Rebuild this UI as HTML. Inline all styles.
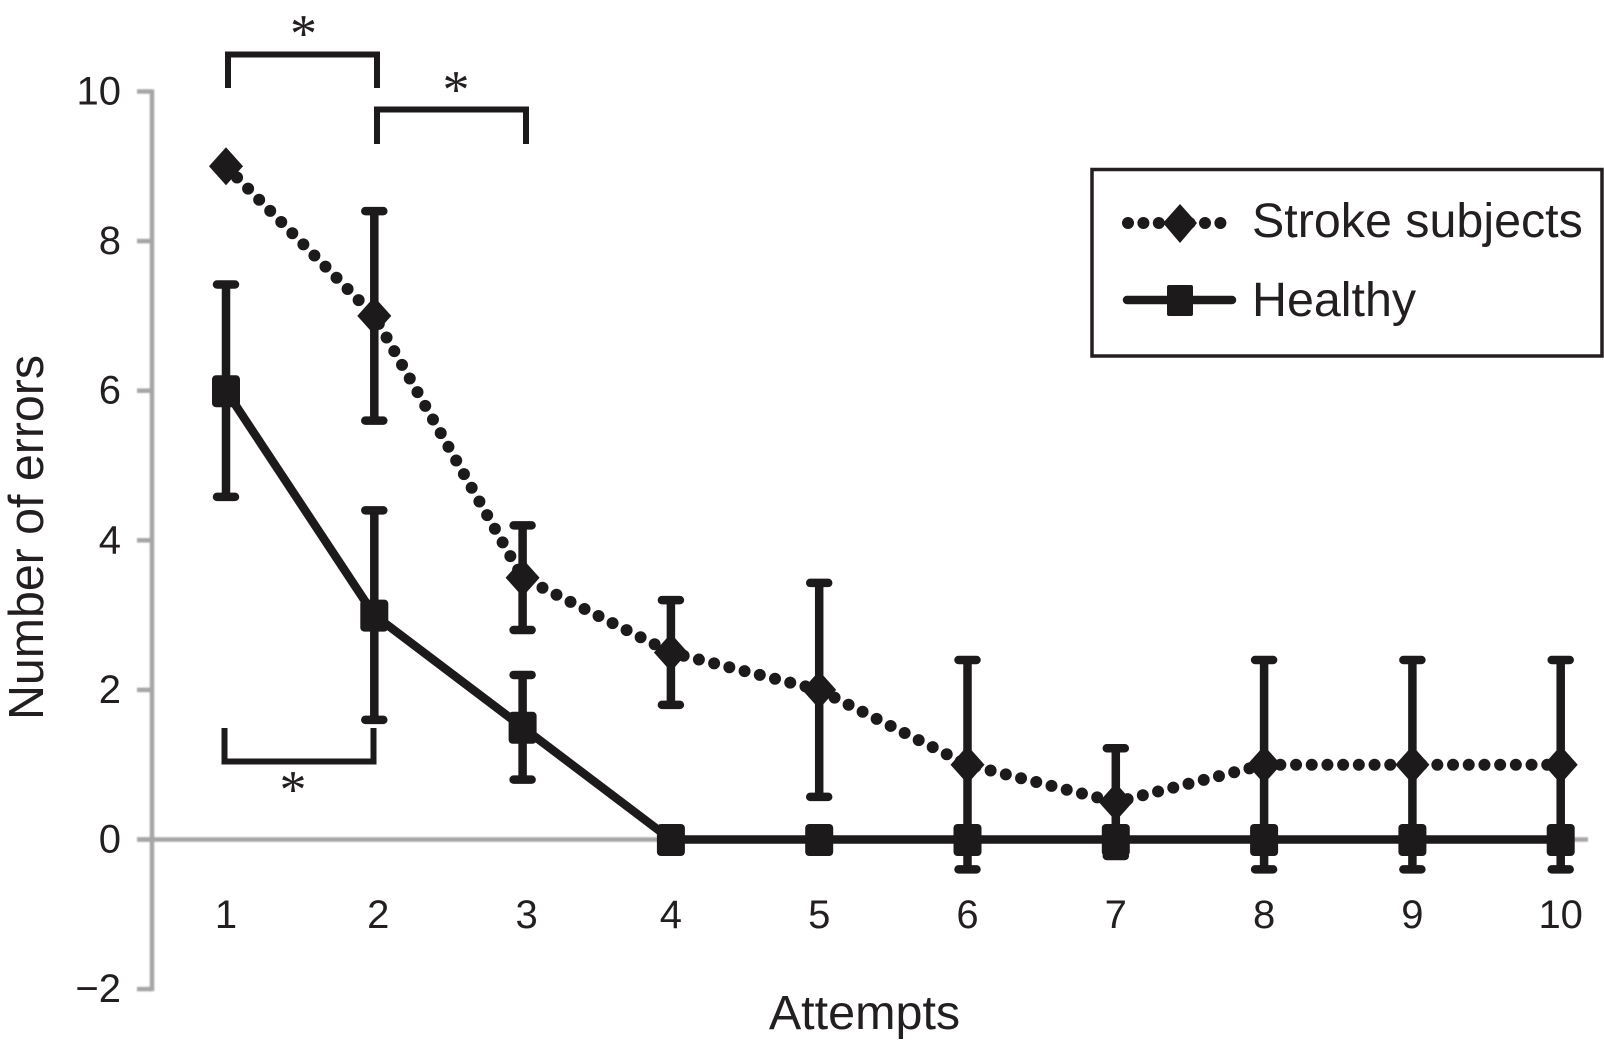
<!DOCTYPE html>
<html lang="en">
<head>
<meta charset="utf-8">
<title>Number of errors by attempt</title>
<style>
  html, body { margin: 0; padding: 0; background: #fff; }
  svg { display: block; }
  text { font-family: "Liberation Sans", Arial, sans-serif; fill: #231f20; }
</style>
</head>
<body>
<svg id="chart" xmlns="http://www.w3.org/2000/svg" width="1604" height="1040" viewBox="0 0 1604 1040">
  <defs>
    <filter id="soft" filterUnits="userSpaceOnUse" x="0" y="0" width="1604" height="1040"><feGaussianBlur stdDeviation="0.8"/></filter>
  </defs>
  <rect x="0" y="0" width="1604" height="1040" fill="#ffffff"/>
  <g id="axis-lines" filter="url(#soft)"></g>
  <g id="axes"></g>
  <g id="marks"></g>

  <g fill="none" stroke="#1c1a1b" stroke-width="6">
    <path d="M228 88 V54.5 H377 V88"/>
    <path d="M377 144 V109.5 H526 V144"/>
    <path d="M224.5 728 V761.5 H373.5 V728"/>
  </g>
  <text x="303.5" y="51.5" font-size="54" text-anchor="middle" style="font-family:'Liberation Serif',serif">*</text>
  <text x="456" y="107.5" font-size="54" text-anchor="middle" style="font-family:'Liberation Serif',serif">*</text>
  <text x="293" y="807.5" font-size="54" text-anchor="middle" style="font-family:'Liberation Serif',serif">*</text>

  <text transform="translate(43 720) rotate(-90)" font-size="49" textLength="365" lengthAdjust="spacingAndGlyphs">Number of errors</text>
  <text x="864.5" y="1029" font-size="48.5" text-anchor="middle">Attempts</text>

  <g>
    <rect x="1092" y="169.5" width="510" height="186.5" fill="#ffffff" stroke="#231f20" stroke-width="3.5"/>
    <g>
      <line x1="1128" y1="223" x2="1225" y2="223" stroke="#1c1a1b" stroke-width="12" stroke-linecap="round" stroke-dasharray="0 15.4"/>
      <polygon points="1180,204 1197,223 1180,243 1163,223" fill="#1c1a1b"/>
      <text x="1252" y="237" font-size="48.4">Stroke subjects</text>
    </g>
    <g>
      <line x1="1127" y1="300" x2="1232" y2="300" stroke="#1c1a1b" stroke-width="8.5" stroke-linecap="round"/>
      <rect x="1167" y="285" width="26" height="31" rx="2" fill="#1c1a1b"/>
      <text x="1252" y="316" font-size="48.4">Healthy</text>
    </g>
  </g>
</svg>
<script>
// Chart data
const attempts = ["1", "2", "3", "4", "5", "6", "7", "8", "9", "10"];
const yTickValues = [10, 8, 6, 4, 2, 0, -2];
const yTickLabels = ["10", "8", "6", "4", "2", "0", "\u22122"];
const strokeValues = [9, 7, 3.5, 2.5, 2, 1, 0.5, 1, 1, 1];
const strokeErrors = [0, 1.4, 0.7, 0.7, 1.43, 1.4, 0.72, 1.4, 1.4, 1.4];
const healthyValues = [6, 3, 1.5, 0, 0, 0, 0, 0, 0, 0];
const healthyErrors = [1.42, 1.4, 0.7, 0, 0, 0, 0, 0, 0, 0];

const NS = "http://www.w3.org/2000/svg";
const INK = "#1c1a1b";
const GREY = "#a6a6a6";
const axisLines = document.getElementById("axis-lines");
const axes = document.getElementById("axes");
const marks = document.getElementById("marks");

function xAt(i) { return 226 + 148.3 * i; }
function yAt(v) { return 839.5 - 74.8 * v; }

function make(parent, tag, attrs) {
  const n = document.createElementNS(NS, tag);
  for (const k in attrs) n.setAttribute(k, attrs[k]);
  parent.appendChild(n);
  return n;
}

// Axes
let el = make(axisLines, "line", { x1: 152, x2: 152, y1: yAt(10) - 2, y2: yAt(-2) + 2, stroke: GREY, "stroke-width": 4.5 });


el = make(axisLines, "line", { x1: 137, x2: 1588, y1: yAt(0), y2: yAt(0), stroke: GREY, "stroke-width": 4.5 });



yTickValues.forEach(function (v, i) {
  const tick = make(axisLines, "line", { x1: 137, x2: 152, y1: yAt(v), y2: yAt(v), stroke: GREY, "stroke-width": 4.5 });
  
  
  const label = make(axes, "text", { x: 121, y: yAt(v) + 13, "font-size": 40, "text-anchor": "end" });
  label.textContent = yTickLabels[i];
  
  
});

attempts.forEach(function (name, i) {
  const nudge = (i === 1 || i === 2) ? 4 : 0;
  const label = make(axes, "text", { x: xAt(i) + nudge, y: 928, "font-size": 40, "text-anchor": "middle" });
  label.textContent = name;
  
  
});

// Series lines
function points(values) {
  return values.map(function (v, i) { return xAt(i) + "," + yAt(v); }).join(" ");
}

const strokeLine = make(marks, "polyline", { points: points(strokeValues), fill: "none", stroke: INK, "stroke-width": 12, "stroke-linecap": "round", "stroke-dasharray": "0 15.7" });



const healthyLine = make(marks, "polyline", { points: points(healthyValues), fill: "none", stroke: INK, "stroke-width": 8.5, "stroke-linejoin": "round" });



// Error bars
function errorBar(i, value, err) {
  if (!err) return null;
  const x = xAt(i);
  const top = yAt(value + err);
  const bottom = yAt(value - err);
  const d = "M" + x + " " + top + " V" + bottom + " M" + (x - 9) + " " + top + " H" + (x + 9) + " M" + (x - 9) + " " + bottom + " H" + (x + 9);
  return make(marks, "path", { d: d, fill: "none", stroke: INK, "stroke-width": 8.5, "stroke-linecap": "round" });
}

strokeValues.forEach(function (v, i) {
  const bar = errorBar(i, v, strokeErrors[i]);
  if (bar) {
    
    
  }
});
healthyValues.forEach(function (v, i) {
  const bar = errorBar(i, v, healthyErrors[i]);
  if (bar) {
    
    
  }
});

// Markers
strokeValues.forEach(function (v, i) {
  const x = xAt(i), y = yAt(v);
  const p = x + "," + (y - 19) + " " + (x + 17) + "," + y + " " + x + "," + (y + 19) + " " + (x - 17) + "," + y;
  const d = make(marks, "polygon", { points: p, fill: INK });
  
  
});
healthyValues.forEach(function (v, i) {
  const r = make(marks, "rect", { x: xAt(i) - 14, y: yAt(v) - 15.5, width: 28, height: 32, rx: 4, fill: INK });
  
  
});
</script>
</body>
</html>
